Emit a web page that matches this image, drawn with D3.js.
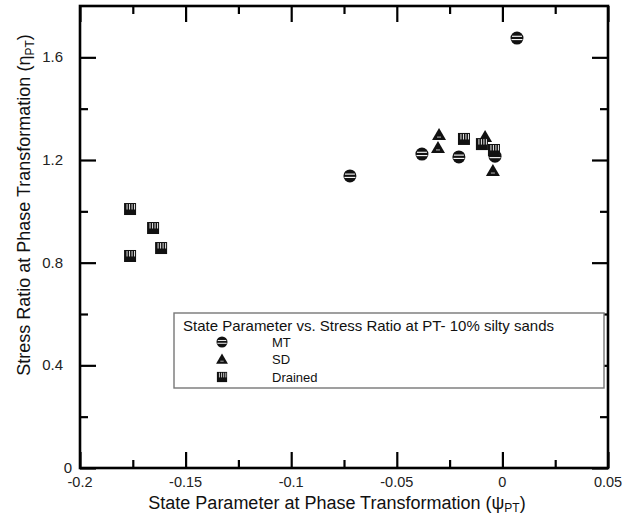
<!DOCTYPE html>
<html>
<head>
<meta charset="utf-8">
<script src="https://cdn.jsdelivr.net/npm/d3@7"></script>
<style>
  html, body { margin: 0; padding: 0; background: #fff; }
  svg { display: block; font-family: "Liberation Sans", Arial, sans-serif; }
</style>
</head>
<body>
<svg id="chart" width="631" height="514"></svg>
<script>
// State parameter (psi) vs stress ratio (eta) at phase transformation, 10% silty sands
const mtPsi  = [-0.0722, -0.0381, -0.0206, -0.0035, 0.0069];
const mtEta  = [1.138, 1.223, 1.212, 1.215, 1.675];

const sdPsi  = [-0.0300, -0.0305, -0.0082, -0.0045];
const sdEta  = [1.297, 1.247, 1.290, 1.157];

const drPsi  = [-0.1763, -0.1654, -0.1616, -0.1763, -0.0182, -0.0097, -0.0040];
const drEta  = [1.009, 0.935, 0.857, 0.826, 1.282, 1.262, 1.239];

const xMajor = [-0.2, -0.15, -0.1, -0.05, 0, 0.05];
const xMinor = [-0.175, -0.125, -0.075, -0.025, 0.025];
const yMajor = [0, 0.4, 0.8, 1.2, 1.6];
const yMinor = [0.2, 0.6, 1.0, 1.4];

const legendTitle = "State Parameter vs. Stress Ratio at PT- 10% silty sands";
const seriesNames = ["MT", "SD", "Drained"];

const svg = d3.select("#chart");
const L = 80, R = 608, T = 6, B = 468;

const x = d3.scaleLinear().domain([-0.2, 0.05]).range([L, R]);
const y = d3.scaleLinear().domain([0, 1.8]).range([B, T]);

const majorLen = 16, minorLen = 8;

function styleAxis(g) {
  g.select(".domain").remove();
  g.selectAll(".tick line").attr("stroke", "#000").attr("stroke-width", 2.2);
  g.selectAll(".tick text").remove();
}

// inward ticks on all four sides
svg.append("g").attr("transform", `translate(0,${B})`)
  .call(d3.axisBottom(x).tickValues(xMajor).tickSize(-majorLen)).call(styleAxis);
svg.append("g").attr("transform", `translate(0,${B})`)
  .call(d3.axisBottom(x).tickValues(xMinor).tickSize(-minorLen)).call(styleAxis);
svg.append("g").attr("transform", `translate(0,${T})`)
  .call(d3.axisTop(x).tickValues(xMajor).tickSize(-majorLen)).call(styleAxis);
svg.append("g").attr("transform", `translate(0,${T})`)
  .call(d3.axisTop(x).tickValues(xMinor).tickSize(-minorLen)).call(styleAxis);
svg.append("g").attr("transform", `translate(${L},0)`)
  .call(d3.axisLeft(y).tickValues(yMajor).tickSize(-majorLen)).call(styleAxis);
svg.append("g").attr("transform", `translate(${L},0)`)
  .call(d3.axisLeft(y).tickValues(yMinor).tickSize(-minorLen)).call(styleAxis);
svg.append("g").attr("transform", `translate(${R},0)`)
  .call(d3.axisRight(y).tickValues(yMajor).tickSize(-majorLen)).call(styleAxis);
svg.append("g").attr("transform", `translate(${R},0)`)
  .call(d3.axisRight(y).tickValues(yMinor).tickSize(-minorLen)).call(styleAxis);

// frame
svg.append("rect")
  .attr("x", L).attr("y", T).attr("width", R - L).attr("height", B - T)
  .attr("fill", "none").attr("stroke", "#000").attr("stroke-width", 2.6);

// tick labels
svg.append("g").selectAll("text").data(xMajor).join("text")
  .attr("x", d => x(d)).attr("y", 487)
  .attr("text-anchor", "middle")
  .attr("font-size", 14.5).attr("fill", "#222")
  .text(d => String(d));

svg.append("g").selectAll("text").data(yMajor).join("text")
  .attr("x", d => d === 0 ? 72 : 63).attr("y", d => y(d) + 5)
  .attr("text-anchor", "end")
  .attr("font-size", 15).attr("fill", "#222")
  .text(d => String(d));

// axis titles
const xt = svg.append("text")
  .attr("x", 337).attr("y", 509)
  .attr("text-anchor", "middle").attr("font-size", 18).attr("fill", "#111");
xt.append("tspan").text("State Parameter at Phase Transformation (\u03C8");
xt.append("tspan").attr("font-size", 12).attr("dy", 3).text("PT");
xt.append("tspan").attr("dy", -3).text(")");

const yt = svg.append("text")
  .attr("transform", `translate(30,205) rotate(-90)`)
  .attr("text-anchor", "middle").attr("font-size", 18).attr("fill", "#111");
yt.append("tspan").text("Stress Ratio at Phase Transformation (\u03B7");
yt.append("tspan").attr("font-size", 12).attr("dy", 4).text("PT");
yt.append("tspan").attr("dy", -4).text(")");

// marker shapes
function drawMT(g) {
  g.append("circle").attr("r", 6.5).attr("fill", "#111");
  g.append("line").attr("x1", -5).attr("x2", 5).attr("y1", -1.8).attr("y2", -1.8)
    .attr("stroke", "#fff").attr("stroke-width", 1.1);
  g.append("line").attr("x1", -5.5).attr("x2", 5.5).attr("y1", 1.5).attr("y2", 1.5)
    .attr("stroke", "#fff").attr("stroke-width", 1.1);
}
function drawSD(g) {
  g.append("path").attr("d", "M0,-7 L7,5 L-7,5 Z").attr("fill", "#111");
  g.append("line").attr("x1", -2).attr("x2", 2).attr("y1", 2).attr("y2", 2)
    .attr("stroke", "#fff").attr("stroke-width", 0.9).attr("opacity", 0.8);
}
function drawDR(g) {
  g.append("rect").attr("x", -6).attr("y", -6).attr("width", 12).attr("height", 12).attr("fill", "#111");
  [-3, -0.5, 2, 4.5].forEach(dx => {
    g.append("line").attr("x1", dx).attr("x2", dx).attr("y1", -5).attr("y2", 0.5)
      .attr("stroke", "#fff").attr("stroke-width", 0.9);
  });
}

const pts = svg.append("g");
function plotSeries(xs, ys, draw) {
  xs.forEach((v, i) => {
    const g = pts.append("g").attr("transform", `translate(${x(v)},${y(ys[i])})`);
    draw(g);
  });
}
plotSeries(mtPsi, mtEta, drawMT);
plotSeries(sdPsi, sdEta, drawSD);
plotSeries(drPsi, drEta, drawDR);

// legend
const lg = svg.append("g");
lg.append("rect").attr("x", 174).attr("y", 313).attr("width", 430).attr("height", 75)
  .attr("fill", "#fff").attr("stroke", "#777").attr("stroke-width", 1.4);
lg.append("text").attr("x", 183).attr("y", 331).attr("font-size", 15).attr("fill", "#111")
  .text(legendTitle);
const drawers = [drawMT, drawSD, drawDR];
seriesNames.forEach((name, i) => {
  const cy = 342 + i * 17.5;
  const g = lg.append("g").attr("transform", `translate(222,${cy}) scale(0.85)`);
  drawers[i](g);
  lg.append("text").attr("x", 272).attr("y", cy + 4.5).attr("font-size", 13).attr("fill", "#111").text(name);
});
</script>
</body>
</html>
